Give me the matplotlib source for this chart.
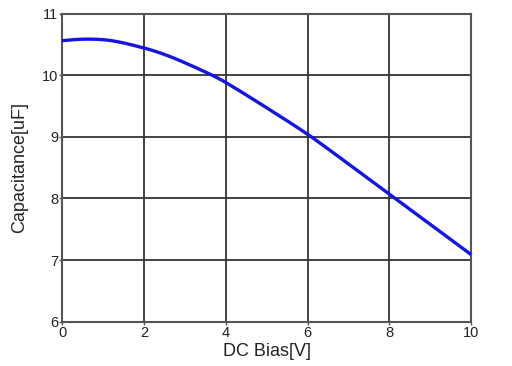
import matplotlib
matplotlib.use("Agg")
import matplotlib.pyplot as plt
import numpy as np

bias_v = [0, 0.6, 1.2, 2, 2.5, 3, 3.66, 4, 5, 6, 7, 8, 9, 10]
capacitance_uf = [10.56, 10.585, 10.56, 10.44, 10.335, 10.2, 10.0, 9.88, 9.47, 9.04, 8.56, 8.07, 7.58, 7.09]
x_ticks = [0, 2, 4, 6, 8, 10]
y_ticks = [6, 7, 8, 9, 10, 11]

plt.rcParams['font.family'] = ['Liberation Sans', 'DejaVu Sans']

fig = plt.figure(figsize=(5.12, 3.66), dpi=100)
ax = fig.add_axes([0.122, 0.121, 0.798, 0.842])

xs = np.array(bias_v)
ys = np.array(capacitance_uf)
# piecewise cubic Hermite through the read points for a smooth curve
xf = []
yf = []
n = len(xs)
m = np.zeros(n)
for i in range(n):
    if i == 0:
        m[i] = (ys[1] - ys[0]) / (xs[1] - xs[0]) * 1.5 - 0.0
    elif i == n - 1:
        m[i] = (ys[-1] - ys[-2]) / (xs[-1] - xs[-2])
    else:
        m[i] = (ys[i + 1] - ys[i - 1]) / (xs[i + 1] - xs[i - 1])
for i in range(n - 1):
    h = xs[i + 1] - xs[i]
    t = np.linspace(0, 1, 20, endpoint=False)
    h00 = 2 * t**3 - 3 * t**2 + 1
    h10 = t**3 - 2 * t**2 + t
    h01 = -2 * t**3 + 3 * t**2
    h11 = t**3 - t**2
    xf.extend(xs[i] + t * h)
    yf.extend(h00 * ys[i] + h10 * h * m[i] + h01 * ys[i + 1] + h11 * h * m[i + 1])
xf.append(xs[-1])
yf.append(ys[-1])

ax.plot(xf, yf, color='#1414e6', linewidth=2.4, zorder=3, solid_capstyle='round')

ax.set_xlim(0, 10)
ax.set_ylim(6, 11)
ax.set_xticks(x_ticks)
ax.set_yticks(y_ticks)
ax.grid(True, color='#333333', linewidth=1.3)
for s in ax.spines.values():
    s.set_color('#555555')
    s.set_linewidth(1.5)
ax.tick_params(axis='both', length=2, width=1, color='#555555', labelsize=10.5,
               labelcolor='#222222', pad=1)
ax.set_xlabel('DC Bias[V]', fontsize=13, color='#222222', labelpad=2)
ax.set_ylabel('Capacitance[uF]', fontsize=13, color='#222222', labelpad=10)

fig.savefig('out.png', dpi=100)
